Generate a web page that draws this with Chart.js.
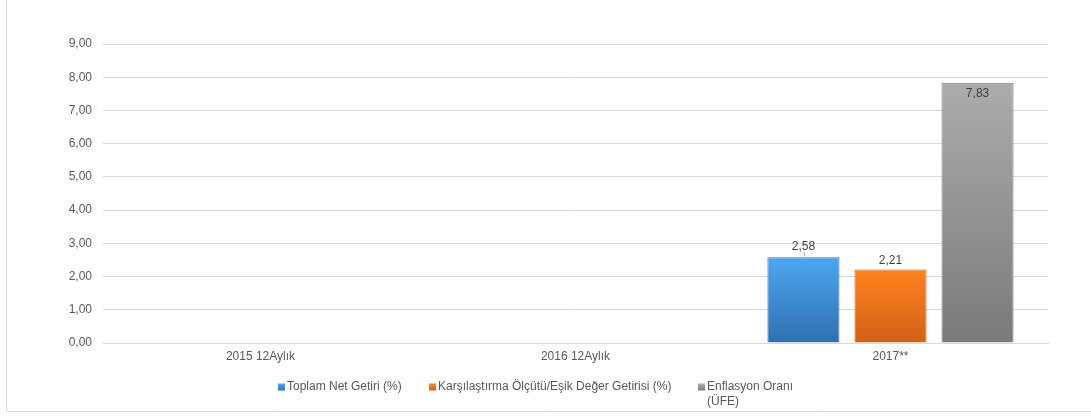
<!DOCTYPE html>
<html><head><meta charset="utf-8">
<script src="https://cdn.jsdelivr.net/npm/chart.js@4/dist/chart.umd.min.js"></script>
<style>html,body{margin:0;padding:0;background:#fff;}#wrap{width:1091px;height:418px;position:relative;}</style>
</head><body><div id="wrap"><canvas id="c" width="1091" height="418"></canvas></div>
<script>
const categories = ['2015 12Aylık', '2016 12Aylık', '2017**'];
const netReturn = [null, null, 2.58];
const benchmarkReturn = [null, null, 2.21];
const inflation = [null, null, 7.83];
const seriesNames = ['Toplam Net Getiri (%)', 'Karşılaştırma Ölçütü/Eşik Değer Getirisi (%)', ['Enflasyon Oranı', '(ÜFE)']];
const yTicks = [0, 1, 2, 3, 4, 5, 6, 7, 8, 9];

const FONT = '"Liberation Sans", Arial, sans-serif';
const TXT = '#595959';

function grad(top, bottom) {
  return (ctx) => {
    const ch = ctx.chart;
    const ys = ch.scales && ch.scales.y;
    if (!ch.chartArea || !ys || ctx.raw == null) return top;
    const yt = ys.getPixelForValue(ctx.raw);
    const yb = ys.getPixelForValue(0);
    const g = ch.ctx.createLinearGradient(0, yt, 0, yb);
    g.addColorStop(0, top);
    g.addColorStop(1, bottom);
    return g;
  };
}
const fmt = v => v.toFixed(2).replace('.', ',');

const frame = {
  id: 'frame',
  beforeDraw(chart) {
    const c = chart.ctx;
    c.save();
    c.strokeStyle = '#d9d9d9';
    c.lineWidth = 1;
    c.beginPath();
    c.moveTo(6.5, 0);
    c.lineTo(6.5, 411.5);
    c.lineTo(1091, 411.5);
    c.stroke();
    c.restore();
  }
};

const valueLabels = {
  id: 'valueLabels',
  afterDatasetsDraw(chart) {
    const c = chart.ctx;
    c.save();
    c.font = '12px ' + FONT;
    c.fillStyle = '#404040';
    c.textAlign = 'center';
    c.textBaseline = 'middle';
    chart.data.datasets.forEach((ds, di) => {
      const meta = chart.getDatasetMeta(di);
      meta.data.forEach((bar, i) => {
        const v = ds.data[i];
        if (v == null) return;
        let y;
        if (di === 2) {
          y = bar.y + 11;
        } else if (di === 0) {
          y = bar.y - 11;
          c.strokeStyle = '#a6a6a6';
          c.lineWidth = 1;
          c.beginPath();
          c.moveTo(bar.x + 0.5, bar.y - 5);
          c.lineTo(bar.x + 1.5, bar.y - 1);
          c.stroke();
        } else {
          y = bar.y - 9;
        }
        c.fillText(fmt(v), bar.x, y);
      });
    });
    c.restore();
  }
};

const customLegend = {
  id: 'customLegend',
  afterDraw(chart) {
    const c = chart.ctx;
    c.save();
    c.font = '12px ' + FONT;
    c.textBaseline = 'middle';
    c.textAlign = 'left';
    const xs = [278, 429, 698];
    chart.data.datasets.forEach((ds, i) => {
      const x = xs[i], y = 387;
      const g = c.createLinearGradient(0, y - 3.5, 0, y + 3.5);
      g.addColorStop(0, ds.legendTop);
      g.addColorStop(1, ds.legendBottom);
      c.fillStyle = g;
      c.fillRect(x, y - 3.5, 7, 7);
      c.fillStyle = TXT;
      const t = seriesNames[i];
      const lines = Array.isArray(t) ? t : [t];
      lines.forEach((ln, k) => c.fillText(ln, x + 9, y + k * 15));
    });
    c.restore();
  }
};

new Chart(document.getElementById('c'), {
  type: 'bar',
  data: {
    labels: categories,
    datasets: [
      { label: 'Toplam Net Getiri (%)', data: netReturn, backgroundColor: grad('#4ea6f0', '#2e70b0'), borderColor: '#3578b8', borderWidth: 1, legendTop: '#5aaaf0', legendBottom: '#2d72b3' },
      { label: 'Karşılaştırma Ölçütü/Eşik Değer Getirisi (%)', data: benchmarkReturn, backgroundColor: grad('#ff8420', '#d15f16'), borderColor: '#d36318', borderWidth: 1, legendTop: '#ff8a2a', legendBottom: '#d25f18' },
      { label: 'Enflasyon Oranı (ÜFE)', data: inflation, backgroundColor: grad('#acacac', '#7a7a7a'), borderColor: '#808080', borderWidth: 1, legendTop: '#b0b0b0', legendBottom: '#7b7b7b' }
    ]
  },
  options: {
    responsive: false,
    animation: false,
    devicePixelRatio: 1,
    layout: { padding: { top: 44, right: 43, bottom: 0, left: 0 } },
    datasets: { bar: { categoryPercentage: 0.829, barPercentage: 0.828, skipNull: false } },
    plugins: { legend: { display: false }, tooltip: { enabled: false } },
    scales: {
      x: {
        grid: { display: false, drawTicks: false },
        border: { display: true, color: '#d9d9d9' },
        ticks: { color: TXT, font: { family: FONT, size: 12 }, padding: 6 },
        afterFit(s) { s.height = 75; }
      },
      y: {
        min: 0, max: 9,
        afterBuildTicks(s) { s.ticks = yTicks.map(v => ({ value: v })); },
        grid: { color: '#d9d9d9', drawTicks: false },
        border: { display: false },
        ticks: { color: TXT, font: { family: FONT, size: 12 }, padding: 11, callback: v => fmt(v) },
        afterFit(s) { s.width = 103; }
      }
    }
  },
  plugins: [frame, valueLabels, customLegend]
});
</script></body></html>
